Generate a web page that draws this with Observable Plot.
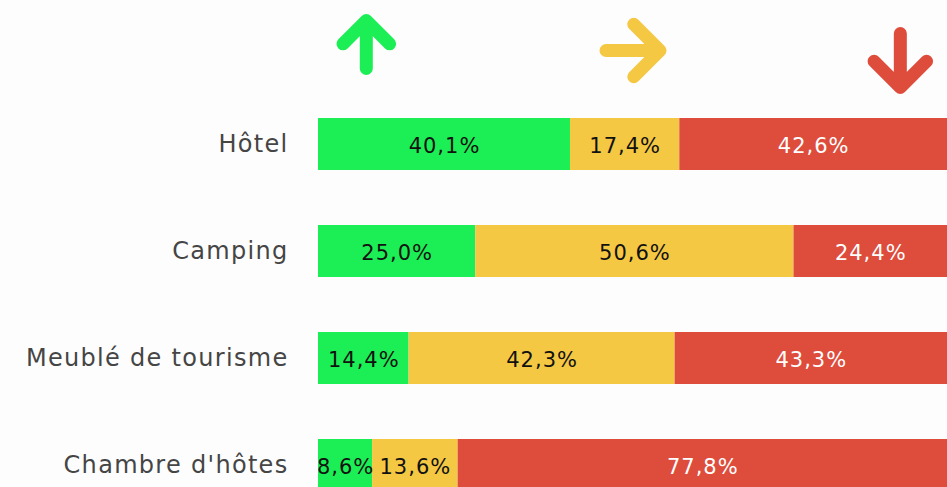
<!DOCTYPE html>
<html>
<head>
<meta charset="utf-8">
<script src="https://cdn.jsdelivr.net/npm/d3@7"></script>
<script src="https://cdn.jsdelivr.net/npm/@observablehq/plot@0.6"></script>
<style>
  html, body { margin: 0; padding: 0; background: #fdfdfd; overflow: hidden; }
  #chart svg { display: block; background: #fdfdfd; }
  #chart svg g[aria-label="y-axis tick label"] text { letter-spacing: 1.3px; }
  #chart svg g[aria-label="text"] text { letter-spacing: 1px; }
</style>
</head>
<body>
<div id="chart"></div>
<script>
const categories = ["Hôtel", "Camping", "Meublé de tourisme", "Chambre d'hôtes"];
const seriesNames = ["hausse", "stable", "baisse"];
const hausse = [40.1, 25.0, 14.4, 8.6];
const stable = [17.4, 50.6, 42.3, 13.6];
const baisse = [42.6, 24.4, 43.3, 77.8];
const seriesColors = ["#1bef55", "#f5c843", "#de4c3b"];
const textColors = ["#111", "#111", "#fff"];
// arrows: position along the bar (share), direction
const arrowPos = [0.076, 0.50, 0.925];
const arrowRotate = [0, 90, 180];
const arrowDy = [7, 13, 23];
const arrowLen = [48, 54, 54];

const values = [hausse, stable, baisse];
const rows = [];
categories.forEach((c, i) => {
  seriesNames.forEach((s, j) => rows.push({cat: c, series: s, value: values[j][i]}));
});
const fmt = v => v.toFixed(1).replace(".", ",") + "%";
const arrowRow = "";

const chart = Plot.plot({
  width: 947,
  height: 487,
  marginLeft: 318,
  marginRight: 0,
  marginTop: 0,
  marginBottom: 0,
  style: {fontFamily: "'DejaVu Sans', sans-serif", background: "#fdfdfd"},
  x: {axis: null, domain: [0, 1]},
  y: {domain: [arrowRow, ...categories], range: [-46, 548], padding: 0.517, label: null},
  color: {domain: seriesNames, range: seriesColors},
  marks: [
    Plot.barX(rows, Plot.stackX({x: "value", y: "cat", fill: "series", order: seriesNames, offset: "normalize"})),
    ...seriesNames.map((s, j) =>
      Plot.text(rows, Plot.stackX({
        x: "value", y: "cat", z: "series", order: seriesNames, offset: "normalize",
        text: d => d.series === s ? fmt(d.value) : "",
        fill: textColors[j], fontSize: 21, dy: 2
      }))
    ),
    ...arrowPos.map((p, k) =>
      Plot.vector([p], {
        x: d => d, y: () => arrowRow, rotate: arrowRotate[k], length: arrowLen[k], r: 8.5,
        anchor: "middle", stroke: seriesColors[k], strokeWidth: 13, dy: arrowDy[k]
      })
    ),
    Plot.axisY({
      ticks: categories, tickSize: 0, tickPadding: 30, fontSize: 24,
      fill: "#454545", label: null
    })
  ]
});
document.getElementById("chart").append(chart);
</script>
</body>
</html>
